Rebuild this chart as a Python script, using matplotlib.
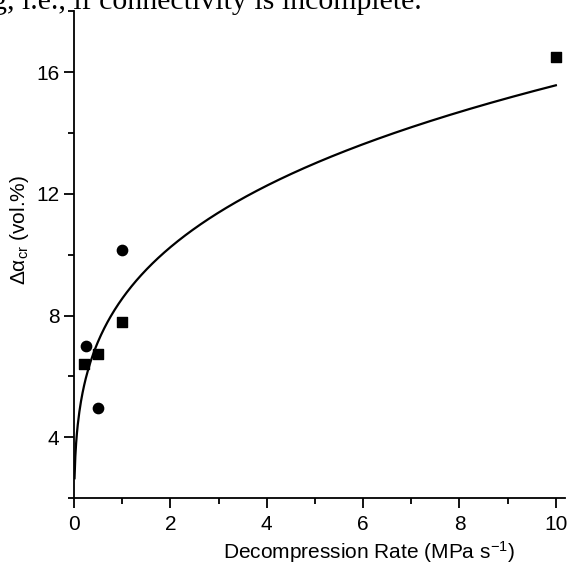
import numpy as np
import matplotlib
matplotlib.use("Agg")
import matplotlib.pyplot as plt
from matplotlib.ticker import MultipleLocator

plt.rcParams['font.family'] = ['Liberation Sans', 'DejaVu Sans']
plt.rcParams['mathtext.fontset'] = 'custom'
plt.rcParams['mathtext.rm'] = 'Liberation Sans'
plt.rcParams['mathtext.it'] = 'Liberation Sans'
plt.rcParams['mathtext.bf'] = 'Liberation Sans:bold'

# datos
rate_sq = [0.2, 0.5, 1.0, 10.0]
alpha_sq = [6.4, 6.75, 7.8, 16.5]
rate_ci = [0.25, 0.5, 1.0]
alpha_ci = [7.0, 4.95, 10.15]

# ajuste potencial y = a * x^b a todos los puntos
x_all = np.array(rate_sq + rate_ci)
y_all = np.array(alpha_sq + alpha_ci)
b, ln_a = np.polyfit(np.log(x_all), np.log(y_all), 1)
x_fit = np.linspace(0.011, 10, 600)
y_fit = np.exp(ln_a) * x_fit ** b

fig = plt.figure(figsize=(5.69, 5.64), dpi=100)
ax = fig.add_axes([74 / 569, 66 / 564, 491 / 569, 486.6 / 564])

ax.plot(x_fit, y_fit, color='black', linewidth=1.6)
ax.scatter(rate_sq, alpha_sq, marker='s', s=55, color='black', zorder=3)
ax.scatter(rate_ci, alpha_ci, marker='o', s=55, color='black', zorder=3)

ax.set_xlim(0, 10.19)
ax.set_ylim(2, 18)
ax.xaxis.set_major_locator(MultipleLocator(2))
ax.xaxis.set_minor_locator(MultipleLocator(1))
ax.yaxis.set_major_locator(MultipleLocator(4))
ax.yaxis.set_minor_locator(MultipleLocator(2))
ax.set_yticks([4, 8, 12, 16])

for side in ['top', 'right']:
    ax.spines[side].set_visible(False)
for side in ['left', 'bottom']:
    ax.spines[side].set_linewidth(1.3)
ax.tick_params(which='major', direction='out', length=7, width=1.3, labelsize=15)
ax.tick_params(axis='x', which='major', pad=5)
ax.tick_params(which='minor', direction='out', length=4, width=1.3)

ax.set_xlabel('Decompression Rate (MPa s$^{-1}$)', fontsize=15)
ax.xaxis.set_label_coords(0.6, -0.085)
ax.set_ylabel(r'$\Delta\alpha_{\rm cr}$ (vol.%)', fontsize=15)
ax.yaxis.set_label_coords(-0.088, 0.55)

# texto del documento cortado arriba
fig.text(-0.014, 1 - 9 / 564, 'g, i.e., if connectivity is incomplete.',
         fontsize=21.5, family='Liberation Serif', va='baseline', ha='left')

fig.savefig('out.png', dpi=100)
plt.close(fig)
